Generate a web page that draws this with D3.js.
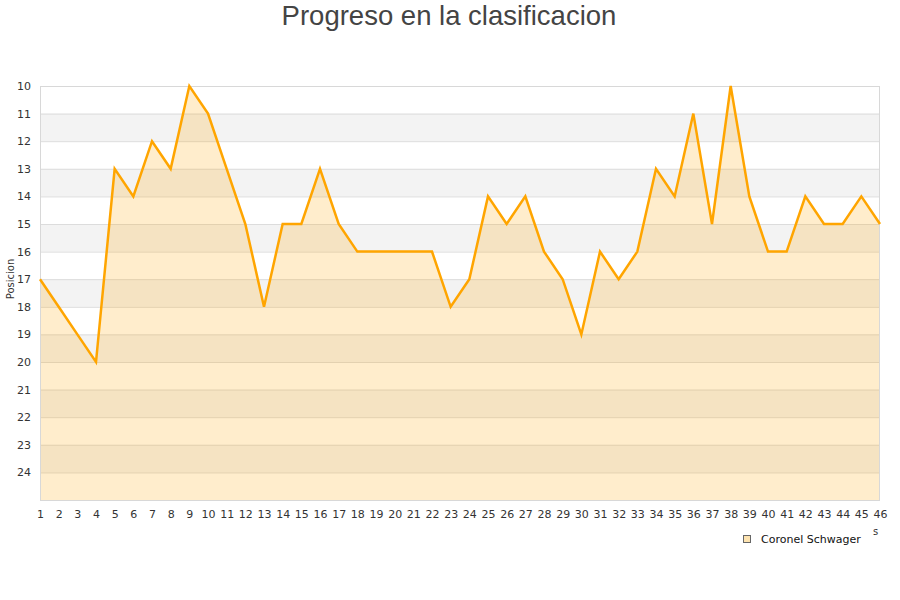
<!DOCTYPE html>
<html>
<head>
<meta charset="utf-8">
<script src="https://cdn.jsdelivr.net/npm/d3@7"></script>
<style>
  body { margin: 0; background: #fff; }
  .tick text { font-family: "DejaVu Sans", sans-serif; font-size: 11px; fill: #333; }
  .axis path, .axis line { display: none; }
</style>
</head>
<body>
<script>
// jornadas and positions
const rounds = d3.range(1, 47);
const positions = [17, 18, 19, 20, 13, 14, 12, 13, 10, 11,
                   13, 15, 18, 15, 15, 13, 15, 16, 16, 16,
                   16, 16, 18, 17, 14, 15, 14, 16, 17, 19,
                   16, 17, 16, 13, 14, 11, 15, 10, 14, 16,
                   16, 14, 15, 15, 14, 15];
const yTicks = d3.range(10, 25);
const teamName = "Coronel Schwager";
const data = rounds.map((r, i) => ({round: r, pos: positions[i]}));

const margin = {top: 86, right: 20, bottom: 100, left: 40},
  width = 900 - margin.left - margin.right,
  height = 600 - margin.top - margin.bottom;

const svg = d3.select("body").append("svg")
    .attr("width", 900)
    .attr("height", 600);

const g = svg.append("g")
    .attr("transform", `translate(${margin.left},${margin.top})`);

const x = d3.scaleLinear().domain([1, 46]).range([0, width]);
const y = d3.scaleLinear().domain([10, 25]).range([0, height]);

// title
svg.append("text")
    .attr("x", 449)
    .attr("y", 25)
    .attr("text-anchor", "middle")
    .style("font-family", "Liberation Sans, Arial, sans-serif")
    .style("font-size", "27.5px")
    .style("fill", "#444")
    .text("Progreso en la clasificacion");

// alternating bands
g.selectAll(".band")
  .data(yTicks.filter(d => d % 2 === 1))
  .join("rect")
    .attr("class", "band")
    .attr("x", 0)
    .attr("y", d => y(d))
    .attr("width", width)
    .attr("height", y(11) - y(10))
    .style("fill", "#f3f3f3");

// gridlines
g.selectAll(".gridline")
  .data(yTicks)
  .join("line")
    .attr("class", "gridline")
    .attr("x1", 0).attr("x2", width)
    .attr("y1", d => y(d) + 0.5).attr("y2", d => y(d) + 0.5)
    .style("stroke", "#dcdcdc");

// area
const area = d3.area()
    .x(d => x(d.round))
    .y0(height)
    .y1(d => y(d.pos));

g.append("path")
    .datum(data)
    .attr("d", area)
    .style("fill", "#ffa500")
    .style("fill-opacity", 0.2);

// plot border
g.append("rect")
    .attr("x", 0.5).attr("y", 0.5)
    .attr("width", width - 1).attr("height", height)
    .style("fill", "none")
    .style("stroke", "#d8d8d8");

// line
const line = d3.line()
    .x(d => x(d.round))
    .y(d => y(d.pos));

g.append("path")
    .datum(data)
    .attr("d", line)
    .style("fill", "none")
    .style("stroke", "#ffa500")
    .style("stroke-width", 2.5)
    .style("stroke-linejoin", "miter");

// axes
g.append("g")
    .attr("class", "y axis")
    .call(d3.axisLeft(y).tickValues(yTicks).tickSize(0).tickPadding(9));

g.append("g")
    .attr("class", "x axis")
    .attr("transform", `translate(0,${height})`)
    .call(d3.axisBottom(x).tickValues(rounds).tickFormat(d3.format("d")).tickSize(0).tickPadding(10));

// y label
svg.append("text")
    .attr("transform", `translate(14,${margin.top + 193}) rotate(-90)`)
    .attr("text-anchor", "middle")
    .style("font-family", "DejaVu Sans, sans-serif")
    .style("font-size", "10px")
    .style("fill", "#333")
    .text("Posicion");

// clipped x label remnant
svg.append("text")
    .attr("x", 873)
    .attr("y", 535)
    .style("font-family", "DejaVu Sans, sans-serif")
    .style("font-size", "10px")
    .style("fill", "#333")
    .text("s");

// legend
const legend = svg.append("g")
    .attr("transform", "translate(743,535)");

legend.append("rect")
    .attr("x", 0.5).attr("y", 0.5)
    .attr("width", 7).attr("height", 7)
    .style("fill", "#fde3b0")
    .style("stroke", "#666");

legend.append("text")
    .attr("x", 18)
    .attr("y", 8)
    .style("font-family", "DejaVu Sans, sans-serif")
    .style("font-size", "11px")
    .style("fill", "#111")
    .text(teamName);
</script>
</body>
</html>
